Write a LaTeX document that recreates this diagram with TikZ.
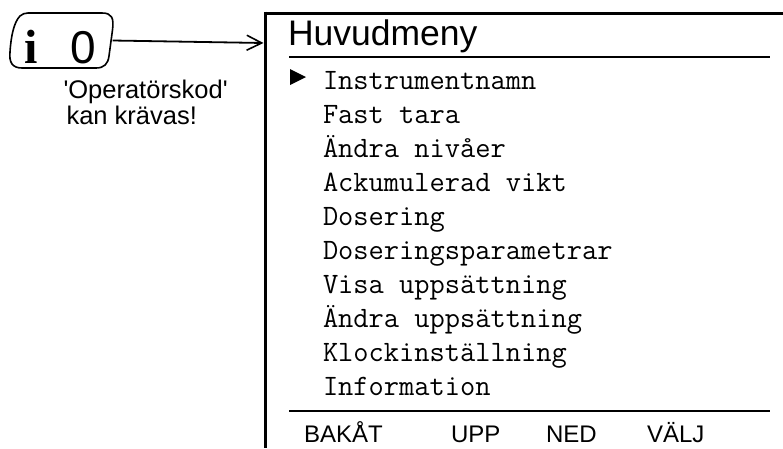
\documentclass[tikz,border=0pt]{standalone}
\usepackage{fontspec}
\setmainfont{Liberation Sans}
\newfontfamily\seriffont{Liberation Serif}
\usetikzlibrary{arrows.meta}
\tikzset{
  txt/.style={anchor=base west, inner sep=0pt, outer sep=0pt},
  menuitem/.style={txt, font=\ttfamily\fontsize{29.6}{34}\selectfont},
  softkey/.style={txt, font=\fontsize{24}{28}\selectfont},
  note/.style={txt, font=\fontsize{25.5}{30}\selectfont},
  heavy/.style={line width=3pt},
  rule/.style={line width=2.2pt},
}
\begin{document}
\begin{tikzpicture}[x=1pt,y=-1pt]
\useasboundingbox (0,0) rectangle (783,448);
% i-box
\draw[line width=1.6pt] (28,13) -- (102,13) .. controls (112,13) and (114,18) .. (112.5,30)
  -- (109,56) .. controls (108,64) and (104,68) .. (96,68) -- (22,68)
  .. controls (12,68) and (9,62) .. (10,52) .. controls (11,36) and (14,22) .. (20,16)
  .. controls (22,14) and (25,13) .. (28,13) -- cycle;
\node (ibox) [inner sep=0pt, minimum width=101pt, minimum height=55pt] at (62,40.5) {};
\node (isym) [txt, font=\seriffont\bfseries\fontsize{48}{50}\selectfont] at (24,63) {i};
\node (zero) [txt, font=\fontsize{46}{50}\selectfont] at (70.5,63) {0};
% notes
\node (n1) [note] at (63.5,98) {\textquotesingle Operatörskod\textquotesingle};
\node (n2) [note] at (66.5,124) {kan krävas!};
% frame
\draw[heavy] (265,13) -- (783,13);
\draw[heavy] (265,11.5) -- (265,448);
\coordinate (framein) at (263.5,43);
\draw[line width=1.8pt, -{Straight Barb[length=15pt,width=15pt,line width=1.6pt]}] (ibox.east) -- (framein);
% title
\node (title) [txt, font=\fontsize{35.5}{38}\selectfont] at (288,45) {Huvudmeny};
\draw[rule] (289,57) -- (770,57);
% menu
\fill (290,69) -- (306,77) -- (290,85) -- cycle;
\node (m0) [menuitem] at (323,89) {Instrumentnamn};
\node (m1) [menuitem] at (323,123) {Fast tara};
\node (m2) [menuitem] at (323,157) {Ändra nivåer};
\node (m3) [menuitem] at (323,191) {Ackumulerad vikt};
\node (m4) [menuitem] at (323,225) {Dosering};
\node (m5) [menuitem] at (323,259) {Doseringsparametrar};
\node (m6) [menuitem] at (323,293) {Visa uppsättning};
\node (m7) [menuitem] at (323,327) {Ändra uppsättning};
\node (m8) [menuitem] at (323,361) {Klockinställning};
\node (m9) [menuitem] at (323,395) {Information};
% footer
\draw[rule] (289,411) -- (770,411);
\node (k1) [softkey] at (304,442) {BAKÅT};
\node (k2) [softkey] at (451,442) {UPP};
\node (k3) [softkey] at (546,442) {NED};
\node (k4) [softkey] at (647,442) {VÄLJ};
\end{tikzpicture}
\end{document}
